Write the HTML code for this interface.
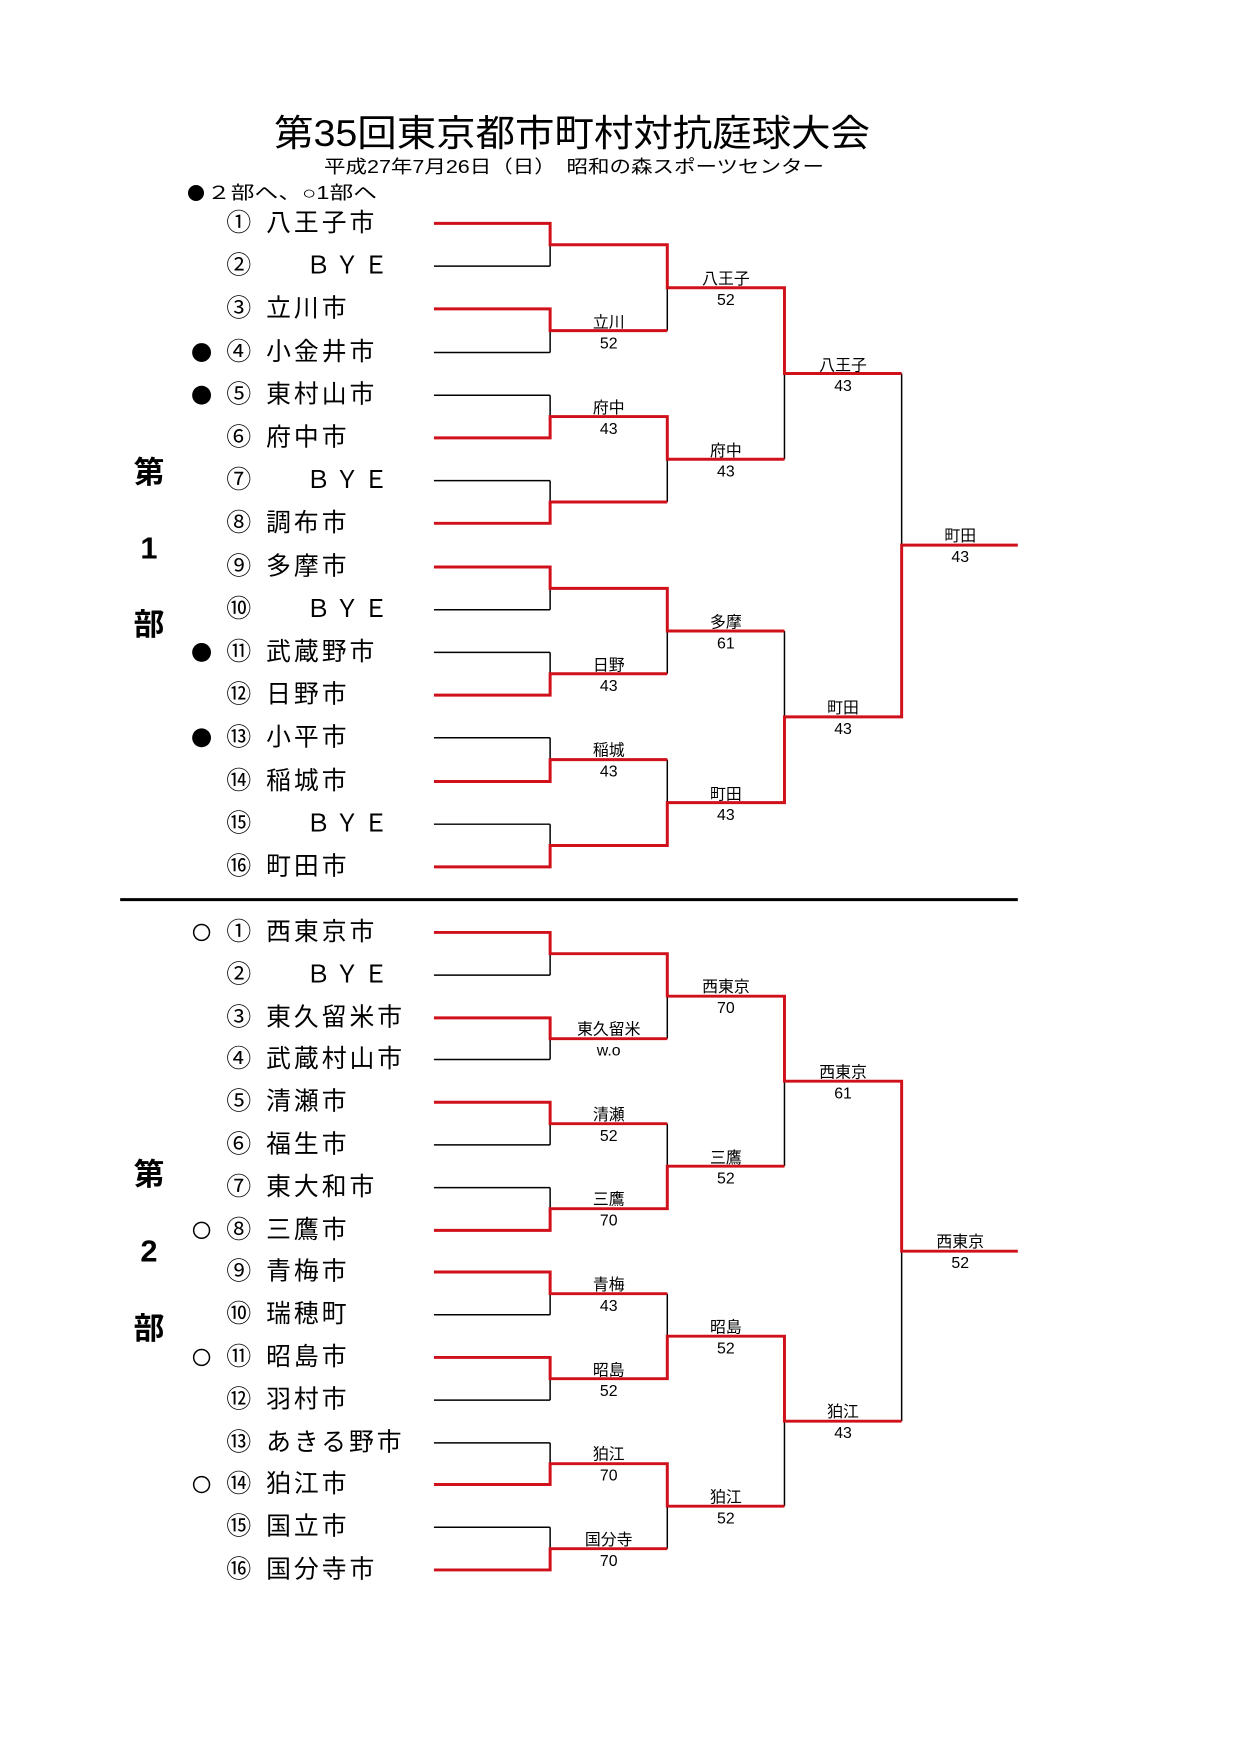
<!DOCTYPE html>
<html><head><meta charset="utf-8">
<style>
html,body{margin:0;padding:0;background:#fff;}
svg{display:block;}
text{font-family:"Liberation Sans","Noto Sans CJK JP",sans-serif;fill:#000;}
.n{font-size:25px;dominant-baseline:central;}
.l{font-size:16px;text-anchor:middle;font-family:"Liberation Serif","Noto Serif CJK JP",serif;}
.s{font-size:31px;font-weight:bold;text-anchor:middle;dominant-baseline:central;}
.k{stroke:#000;stroke-width:1.5;fill:none;}
.r{stroke:#d0101a;stroke-width:3;fill:none;}
</style></head>
<body>
<svg width="1240" height="1754" viewBox="0 0 1240 1754" xmlns="http://www.w3.org/2000/svg">
<text x="572" y="146" font-size="37" text-anchor="middle" textLength="596" lengthAdjust="spacingAndGlyphs">第35回東京都市町村対抗庭球大会</text>
<text x="574" y="173" font-size="18" text-anchor="middle" textLength="500" lengthAdjust="spacingAndGlyphs">平成27年7月26日（日）　昭和の森スポーツセンター</text>
<circle cx="196" cy="193" r="8" fill="#000"/>
<text x="207" y="199" font-size="18" textLength="170" lengthAdjust="spacingAndGlyphs">２部へ、○1部へ</text>

<g transform="scale(0.993)">
<!-- section labels -->
<text class="s" x="150" y="476">第</text>
<text class="s" x="150" y="552">1</text>
<text class="s" x="150" y="629">部</text>
<text class="s" x="150" y="1183">第</text>
<text class="s" x="150" y="1260">2</text>
<text class="s" x="150" y="1338">部</text>

<line x1="121" y1="906" x2="1025" y2="906" stroke="#000" stroke-width="3"/>

<!-- bullets -->
<g fill="#000">
<circle cx="203" cy="355" r="9.5"/><circle cx="203" cy="398" r="9.5"/><circle cx="203" cy="657" r="9.5"/><circle cx="203" cy="743" r="9.5"/>
</g>
<g fill="none" stroke="#000" stroke-width="1.5">
<circle cx="203" cy="939" r="8"/><circle cx="203" cy="1239" r="8"/><circle cx="203" cy="1367" r="8"/><circle cx="203" cy="1495" r="8"/>
</g>

<!-- section 1 names -->
<g class="n">
<text x="228" y="225">①</text><text x="268" y="225" letter-spacing="3">八王子市</text>
<text x="228" y="268">②</text><text x="308" y="268" letter-spacing="4">ＢＹＥ</text>
<text x="228" y="311">③</text><text x="268" y="311" letter-spacing="3">立川市</text>
<text x="228" y="355">④</text><text x="268" y="355" letter-spacing="3">小金井市</text>
<text x="228" y="398">⑤</text><text x="268" y="398" letter-spacing="3">東村山市</text>
<text x="228" y="441">⑥</text><text x="268" y="441" letter-spacing="3">府中市</text>
<text x="228" y="484">⑦</text><text x="308" y="484" letter-spacing="4">ＢＹＥ</text>
<text x="228" y="527">⑧</text><text x="268" y="527" letter-spacing="3">調布市</text>
<text x="228" y="571">⑨</text><text x="268" y="571" letter-spacing="3">多摩市</text>
<text x="228" y="614">⑩</text><text x="308" y="614" letter-spacing="4">ＢＹＥ</text>
<text x="228" y="657">⑪</text><text x="268" y="657" letter-spacing="3">武蔵野市</text>
<text x="228" y="700">⑫</text><text x="268" y="700" letter-spacing="3">日野市</text>
<text x="228" y="743">⑬</text><text x="268" y="743" letter-spacing="3">小平市</text>
<text x="228" y="787">⑭</text><text x="268" y="787" letter-spacing="3">稲城市</text>
<text x="228" y="830">⑮</text><text x="308" y="830" letter-spacing="4">ＢＹＥ</text>
<text x="228" y="873">⑯</text><text x="268" y="873" letter-spacing="3">町田市</text>
</g>
<!-- section 2 names -->
<g class="n">
<text x="228" y="939">①</text><text x="268" y="939" letter-spacing="3">西東京市</text>
<text x="228" y="982">②</text><text x="308" y="982" letter-spacing="4">ＢＹＥ</text>
<text x="228" y="1025">③</text><text x="268" y="1025" letter-spacing="3">東久留米市</text>
<text x="228" y="1067">④</text><text x="268" y="1067" letter-spacing="3">武蔵村山市</text>
<text x="228" y="1110">⑤</text><text x="268" y="1110" letter-spacing="3">清瀬市</text>
<text x="228" y="1153">⑥</text><text x="268" y="1153" letter-spacing="3">福生市</text>
<text x="228" y="1196">⑦</text><text x="268" y="1196" letter-spacing="3">東大和市</text>
<text x="228" y="1239">⑧</text><text x="268" y="1239" letter-spacing="3">三鷹市</text>
<text x="228" y="1281">⑨</text><text x="268" y="1281" letter-spacing="3">青梅市</text>
<text x="228" y="1324">⑩</text><text x="268" y="1324" letter-spacing="3">瑞穂町</text>
<text x="228" y="1367">⑪</text><text x="268" y="1367" letter-spacing="3">昭島市</text>
<text x="228" y="1410">⑫</text><text x="268" y="1410" letter-spacing="3">羽村市</text>
<text x="228" y="1453">⑬</text><text x="268" y="1453" letter-spacing="3">あきる野市</text>
<text x="228" y="1495">⑭</text><text x="268" y="1495" letter-spacing="3">狛江市</text>
<text x="228" y="1538">⑮</text><text x="268" y="1538" letter-spacing="3">国立市</text>
<text x="228" y="1581">⑯</text><text x="268" y="1581" letter-spacing="3">国分寺市</text>
</g>

<!-- Section 1 lines -->
<g class="k">
<path d="M437 268H554M437 355H554M437 398H554M437 484H554M437 614H554M437 657H554M437 743H554M437 830H554"/>
<path d="M554 225V268M554 311V355M554 398V441M554 484V527M554 571V614M554 657V700M554 743V787M554 830V873"/>
<path d="M672 246.5V333M672 419.5V505.5M672 592.5V678.5M672 765V851.5"/>
<path d="M790 289.75V462.5M790 635.5V808.25M908 376.1V721.9"/>
</g>
<g class="r">
<path d="M437 225H554V246.5H672V289.75H790V376.1H908"/>
<path d="M437 311H554V333H672"/>
<path d="M437 441H554V419.5H672V462.5H790"/>
<path d="M437 527H554V505.5H672"/>
<path d="M437 571H554V592.5H672V635.5H790"/>
<path d="M437 700H554V678.5H672"/>
<path d="M437 787H554V765H672"/>
<path d="M437 873H554V851.5H672V808.25H790V721.9H908V549H1025"/>
</g>

<!-- Section 2 lines -->
<g class="k">
<path d="M437 982H554M437 1067H554M437 1153H554M437 1196H554M437 1324H554M437 1410H554M437 1453H554M437 1538H554"/>
<path d="M554 939V982M554 1025V1067M554 1110V1153M554 1196V1239M554 1281V1324M554 1367V1410M554 1453V1495M554 1538V1581"/>
<path d="M672 960.4V1046M672 1131.6V1217.2M672 1302.8V1388.4M672 1474V1559.6"/>
<path d="M790 1003.2V1174.4M790 1345.6V1516.8M908 1088.8V1431.2"/>
</g>
<g class="r">
<path d="M437 939H554V960.4H672V1003.2H790V1088.8H908V1260H1025"/>
<path d="M437 1025H554V1046H672"/>
<path d="M437 1110H554V1131.6H672"/>
<path d="M437 1239H554V1217.2H672V1174.4H790"/>
<path d="M437 1281H554V1302.8H672"/>
<path d="M437 1367H554V1388.4H672V1345.6H790V1431.2H908"/>
<path d="M437 1495H554V1474H672V1516.8H790"/>
<path d="M437 1581H554V1559.6H672"/>
</g>

<!-- labels section 1 -->
<g class="l">
<text x="613" y="330">立川</text><text x="613" y="351">52</text>
<text x="613" y="416">府中</text><text x="613" y="437">43</text>
<text x="613" y="675">日野</text><text x="613" y="696">43</text>
<text x="613" y="761">稲城</text><text x="613" y="782">43</text>
<text x="731" y="286">八王子</text><text x="731" y="307">52</text>
<text x="731" y="459">府中</text><text x="731" y="480">43</text>
<text x="731" y="632">多摩</text><text x="731" y="653">61</text>
<text x="731" y="805">町田</text><text x="731" y="826">43</text>
<text x="849" y="373">八王子</text><text x="849" y="394">43</text>
<text x="849" y="718">町田</text><text x="849" y="739">43</text>
<text x="967" y="545">町田</text><text x="967" y="566">43</text>
</g>
<!-- labels section 2 -->
<g class="l">
<text x="613" y="1042">東久留米</text><text x="613" y="1063">w.o</text>
<text x="613" y="1128">清瀬</text><text x="613" y="1149">52</text>
<text x="613" y="1213">三鷹</text><text x="613" y="1234">70</text>
<text x="613" y="1299">青梅</text><text x="613" y="1320">43</text>
<text x="613" y="1385">昭島</text><text x="613" y="1406">52</text>
<text x="613" y="1470">狛江</text><text x="613" y="1491">70</text>
<text x="613" y="1556">国分寺</text><text x="613" y="1577">70</text>
<text x="731" y="999">西東京</text><text x="731" y="1020">70</text>
<text x="731" y="1171">三鷹</text><text x="731" y="1192">52</text>
<text x="731" y="1342">昭島</text><text x="731" y="1363">52</text>
<text x="731" y="1513">狛江</text><text x="731" y="1534">52</text>
<text x="849" y="1085">西東京</text><text x="849" y="1106">61</text>
<text x="849" y="1427">狛江</text><text x="849" y="1448">43</text>
<text x="967" y="1256">西東京</text><text x="967" y="1277">52</text>
</g>
</g>
</svg>
</body></html>
